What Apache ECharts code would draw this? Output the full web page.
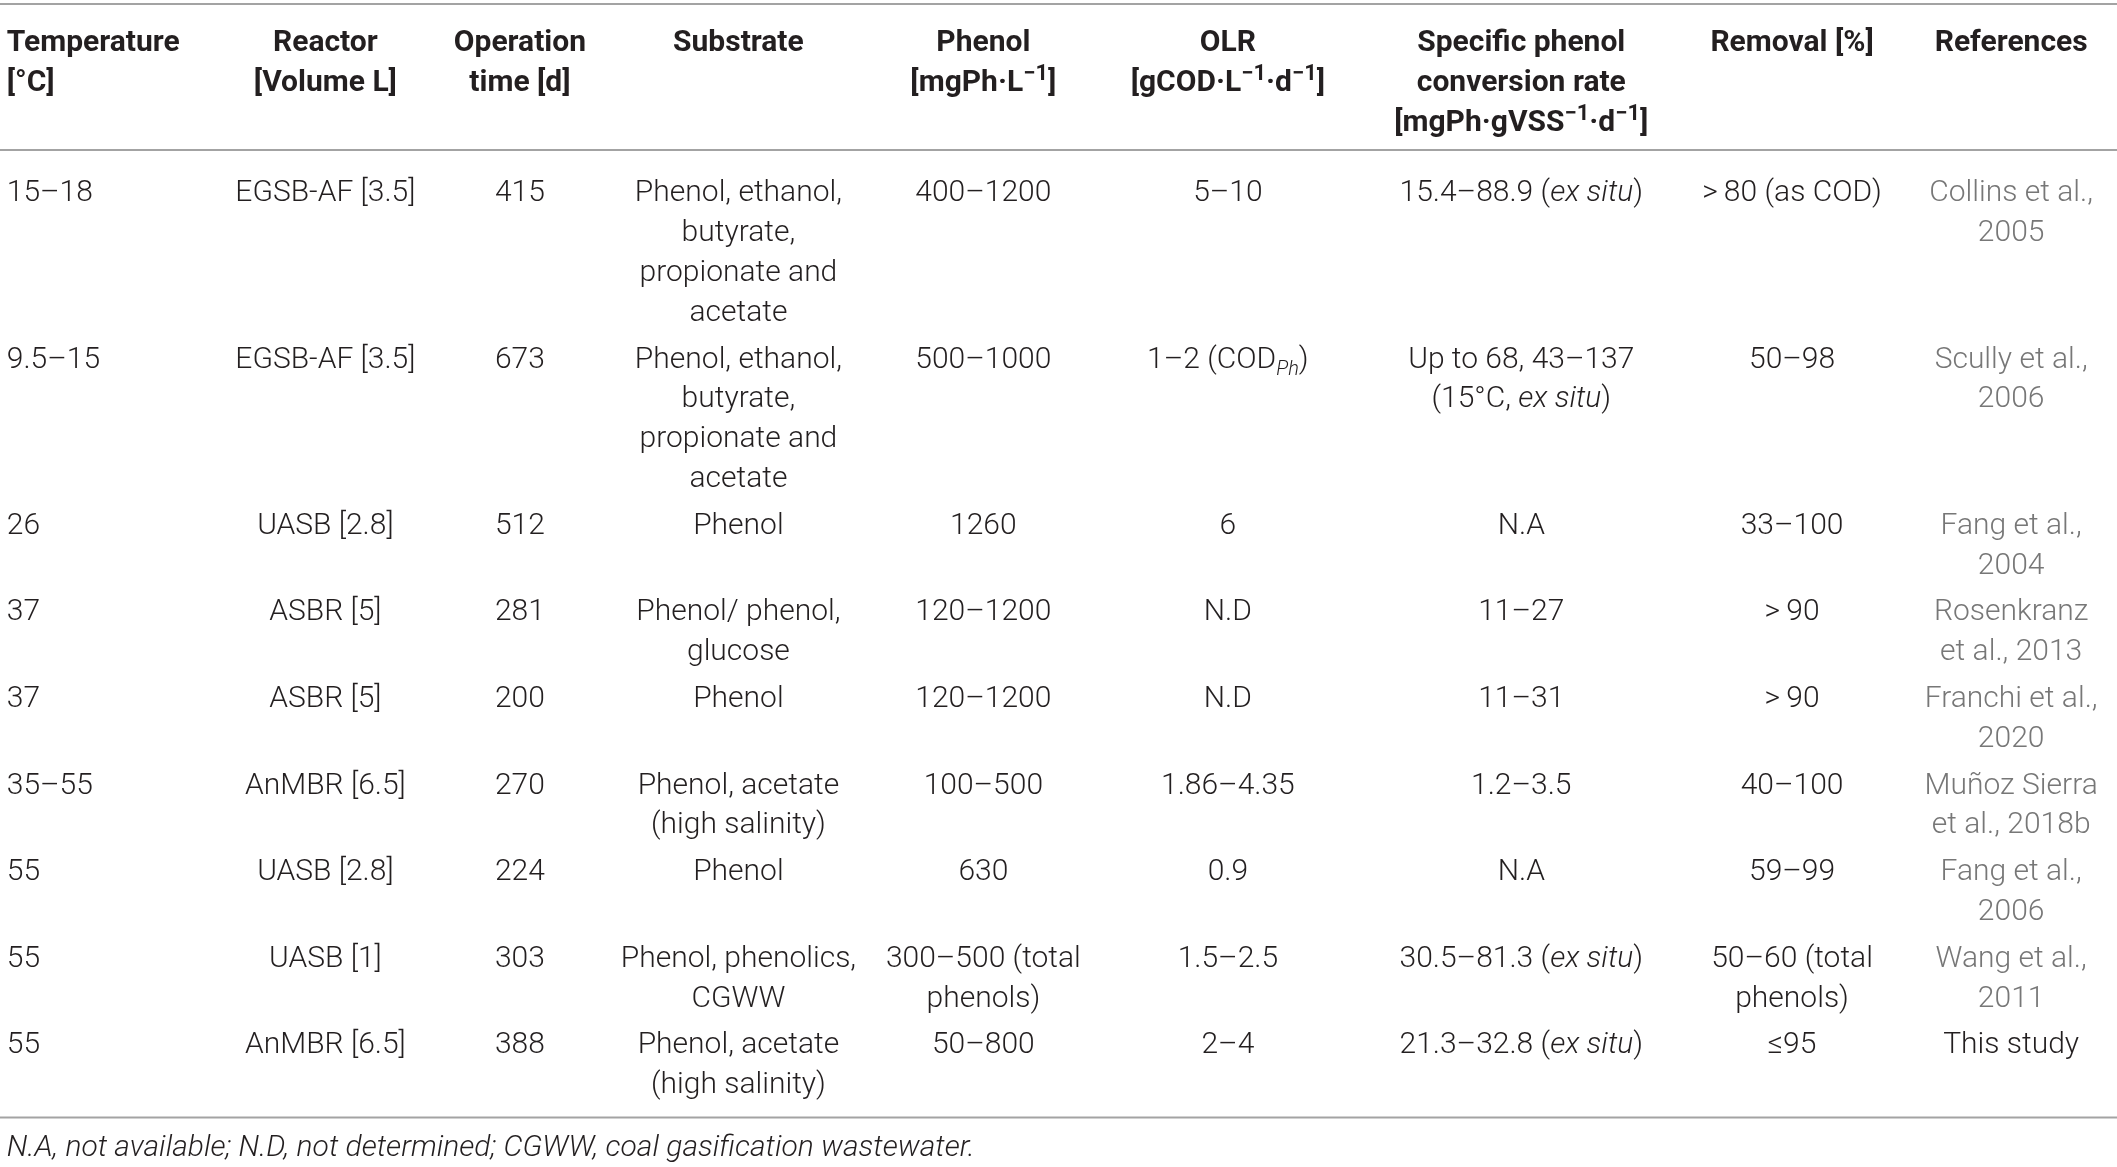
<!DOCTYPE html>
<html lang="en">
<head>
<meta charset="UTF-8">
<title>Phenol conversion table</title>
<script src="https://cdn.jsdelivr.net/npm/echarts@6/dist/echarts.min.js"></script>
<style>
  html, body { margin: 0; padding: 0; width: 100%; height: 100%; background: #fff; }
  #main { width: 100%; height: 100%; }
</style>
</head>
<body>
<div id="main"></div>
<script>
// table content
var headers = [
  'Temperature\n[°C]',
  'Reactor\n[Volume L]',
  'Operation\ntime [d]',
  'Substrate',
  'Phenol\n[mgPh·L{sup|−1}]',
  'OLR\n[gCOD·L{sup|−1}·d{sup|−1}]',
  'Specific phenol\nconversion rate\n[mgPh·gVSS{sup|−1}·d{sup|−1}]',
  'Removal [%]',
  'References'
];
var temperature = ['15–18', '9.5–15', '26', '37', '37', '35–55', '55', '55', '55'];
var reactor = ['EGSB-AF [3.5]', 'EGSB-AF [3.5]', 'UASB [2.8]', 'ASBR [5]', 'ASBR [5]',
  'AnMBR [6.5]', 'UASB [2.8]', 'UASB [1]', 'AnMBR [6.5]'];
var operationTime = ['415', '673', '512', '281', '200', '270', '224', '303', '388'];
var substrate = [
  'Phenol, ethanol,\nbutyrate,\npropionate and\nacetate',
  'Phenol, ethanol,\nbutyrate,\npropionate and\nacetate',
  'Phenol',
  'Phenol/ phenol,\nglucose',
  'Phenol',
  'Phenol, acetate\n(high salinity)',
  'Phenol',
  'Phenol, phenolics,\nCGWW',
  'Phenol, acetate\n(high salinity)'
];
var phenol = ['400–1200', '500–1000', '1260', '120–1200', '120–1200', '100–500', '630',
  '300–500 (total\nphenols)', '50–800'];
var olr = ['5–10', '1–2 (COD{sub|Ph})', '6', 'N.D', 'N.D', '1.86–4.35', '0.9', '1.5–2.5', '2–4'];
var conversion = ['15.4–88.9 ({i|ex situ})', 'Up to 68, 43–137\n(15°C, {i|ex situ})', 'N.A',
  '11–27', '11–31', '1.2–3.5', 'N.A', '30.5–81.3 ({i|ex situ})', '21.3–32.8 ({i|ex situ})'];
var removal = ['>\u200980 (as COD)', '50–98', '33–100', '>\u200990', '>\u200990', '40–100', '59–99',
  '50–60 (total\nphenols)', '≤95'];
var references = ['Collins et al.,\n2005', 'Scully et al.,\n2006', 'Fang et al.,\n2004',
  'Rosenkranz\net al., 2013', 'Franchi et al.,\n2020', 'Muñoz Sierra\net al., 2018b',
  'Fang et al.,\n2006', 'Wang et al.,\n2011', 'This study'];
var footnote = 'N.A, not available; N.D, not determined; CGWW, coal gasification wastewater.';

var columns = [temperature, reactor, operationTime, substrate, phenol, olr, conversion, removal, references];

// layout (percent of width for columns, px for vertical spacing)
var colPos = [0.32, 15.37, 24.56, 34.88, 46.45, 58.0, 71.86, 84.65, 95.0];
var colAlign = ['left', 'center', 'center', 'center', 'center', 'center', 'center', 'center', 'center'];
var LINE_PX = 39.8;
var FONT = 'Roboto, "Liberation Sans", sans-serif';
var TEXT = '#231f20', GREY = '#777777', RULE = '#a3a3a3';

var chart = echarts.init(document.getElementById('main'));
var H = chart.getHeight();
function u(px) { return px / LINE_PX; }
function nLines(s) { return s.split('\n').length; }

// vertical positions in line units
var topRule = u(4);
var headerTop = u(24);
var headerLines = Math.max.apply(null, headers.map(nLines));
var headerRule = headerTop + headerLines + u(6.5);
var rowTops = [];
var y = headerRule + u(24);
var rowCount = temperature.length, lastLines = 1;
for (var r = 0; r < rowCount; r++) {
  rowTops.push(y);
  lastLines = Math.max.apply(null, columns.map(function (col) { return nLines(col[r]); }));
  y += lastLines + u(7);
}
var bottomRule = rowTops[rowCount - 1] + lastLines + u(12);
var footTop = bottomRule + u(11);

var cells = [];
headers.forEach(function (h, c) {
  cells.push({ value: [colPos[c], headerTop], text: h, align: colAlign[c], bold: true, color: TEXT });
});
columns.forEach(function (col, c) {
  col.forEach(function (t, r) {
    var grey = c === 8 && t !== 'This study';
    cells.push({ value: [colPos[c], rowTops[r]], text: t, align: colAlign[c], bold: false, color: grey ? GREY : TEXT });
  });
});
cells.push({ value: [colPos[0], footTop], text: footnote, align: 'left', bold: false, italic: true, color: TEXT, size: 30 });

var rules = [[topRule], [headerRule], [bottomRule]];

function richFor(bold, color) {
  var w = bold ? 'bold' : 300;
  return {
    sup: { fontSize: 22, fontWeight: w, fontFamily: FONT, fill: color, verticalAlign: 'top', lineHeight: 28 },
    sub: { fontSize: 20, fontStyle: 'italic', fontWeight: w, fontFamily: FONT, fill: color, verticalAlign: 'bottom', lineHeight: 26 },
    i: { fontSize: 30, fontStyle: 'italic', fontWeight: w, fontFamily: FONT, fill: color }
  };
}

chart.setOption({
  backgroundColor: '#fff',
  animation: false,
  grid: { left: 0, right: 0, top: 0, bottom: 0 },
  xAxis: { type: 'value', min: 0, max: 100, show: false },
  yAxis: { type: 'value', min: 0, max: H / LINE_PX, inverse: true, show: false },
  series: [
    {
      type: 'custom',
      data: rules,
      clip: false,
      renderItem: function (params, api) {
        var a = api.coord([0, api.value(0)]);
        var b = api.coord([100, api.value(0)]);
        return {
          type: 'line',
          shape: { x1: a[0], y1: a[1], x2: b[0], y2: b[1] },
          style: { stroke: RULE, lineWidth: 2 }
        };
      }
    },
    {
      type: 'custom',
      data: cells.map(function (c) { return c.value; }),
      clip: false,
      renderItem: function (params, api) {
        var c = cells[params.dataIndex];
        var p = api.coord([api.value(0), api.value(1)]);
        return {
          type: 'text',
          x: p[0],
          y: p[1],
          style: {
            text: c.text,
            fill: c.color,
            fontFamily: FONT,
            fontSize: c.size || 30,
            fontWeight: c.bold ? 'bold' : 300,
            fontStyle: c.italic ? 'italic' : 'normal',
            align: c.align,
            verticalAlign: 'top',
            lineHeight: LINE_PX,
            rich: richFor(c.bold, c.color)
          }
        };
      }
    }
  ]
});

window.addEventListener('resize', function () { chart.resize(); });
</script>
</body>
</html>
